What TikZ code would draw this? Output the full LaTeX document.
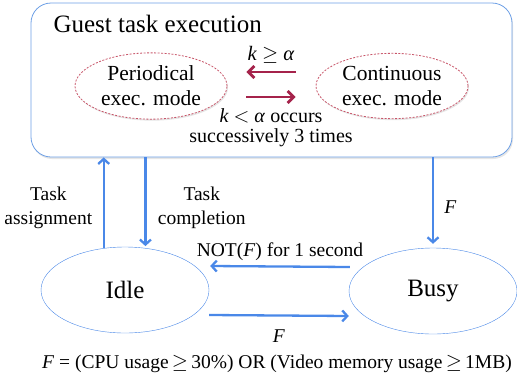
\documentclass[tikz,border=0pt]{standalone}
\usepackage{fontspec}
\setmainfont{Liberation Serif}
\usepackage{tikz}
\usetikzlibrary{shapes.geometric,arrows.meta,shadows}
\usepackage{xcolor}
\definecolor{skyblue}{RGB}{74,136,232}
\definecolor{boxblue}{RGB}{110,160,230}
\definecolor{wine}{RGB}{165,35,75}
\definecolor{modered}{RGB}{200,85,105}

\begin{document}
\begin{tikzpicture}[x=1pt,y=-1pt,
    flow/.style={draw=skyblue,line width=2.3pt,-{Straight Barb[length=5pt,width=11pt]}},
    modeflow/.style={draw=wine,line width=2.8pt,-{Straight Barb[length=6pt,width=12pt]}},
    mode/.style={ellipse,draw=modered,line width=0.8pt,dash pattern=on 2pt off 1.5pt,fill=white,minimum width=152pt,minimum height=62pt,align=center,font=\fontsize{21.5}{25}\selectfont,drop shadow={opacity=0.2,shadow xshift=1pt,shadow yshift=-1.5pt}},
    state/.style={ellipse,draw=skyblue,fill=white,minimum width=168pt,minimum height=86pt,font=\fontsize{25}{30}\selectfont},
    lbl/.style={align=center,font=\fontsize{19.5}{24}\selectfont}]
            \useasboundingbox (0,0) rectangle (517,381);
            % guest task box
            \node[draw=boxblue,line width=0.8pt,rounded corners=20pt,fill=white,minimum width=481pt,minimum height=154pt,
                drop shadow={opacity=0.2,shadow xshift=1pt,shadow yshift=-2pt}] (guest) at (271.5,80) {};
            \node[anchor=base west,font=\fontsize{25}{30}\selectfont] (title) at (50,32) {Guest task execution};

            \node[mode] (periodical) at (151,86) {Periodical\\exec. mode};
            \node[mode] (continuous) at (392,86) {Continuous\\exec. mode};

            \draw[modeflow] ([xshift=-20pt,yshift=14pt]continuous.west) -- node[above=4pt,font=\fontsize{20.5}{24}\selectfont] (kge) {\textit{k} $\geq$ \textit{α}} ([xshift=19pt,yshift=14pt]periodical.east);
            \draw[modeflow] ([xshift=19pt,yshift=-11pt]periodical.east) -- node[below=7pt,align=center,font=\fontsize{20}{20}\selectfont] (klt) {\textit{k} $<$ \textit{α} occurs\\successively 3 times} ([xshift=-20pt,yshift=-11pt]continuous.west);

            % machine states
            \node[state] (idle) at (125,290) {Idle};
            \node[state] (busy) at (433,291) {Busy};

            \draw[flow] (idle.117) -- node[midway,left=7pt,yshift=-5pt,lbl] (assign) {Task\\assignment} (idle.117 |- guest.south);
            \draw[flow,shorten >=2pt] (guest.south -| idle.64) -- node[midway,right=8pt,yshift=-5pt,lbl] (complete) {Task\\completion} (idle.64);
            \draw[flow,shorten >=4pt] (guest.south -| busy.north) -- node[midway,right=7pt,yshift=-5pt,lbl] (fdown) {\textit{F}} (busy.north);

            \draw[flow] ([xshift=1pt,yshift=24pt]busy.west) -- node[above=1pt,lbl] (notf) {NOT(\textit{F}) for 1 second} ([xshift=1pt,yshift=24pt]idle.east);
            \draw[flow] ([yshift=-25pt]idle.east) -- node[below=10pt,lbl] (fright) {\textit{F}} ([yshift=-25pt]busy.west);

            \node[lbl] (formula) at (277,364) {\textit{F} = (CPU usage\,$\geq$\,30\%) OR (Video memory usage\,$\geq$\,1MB)};
        \end{tikzpicture}
\end{document}
